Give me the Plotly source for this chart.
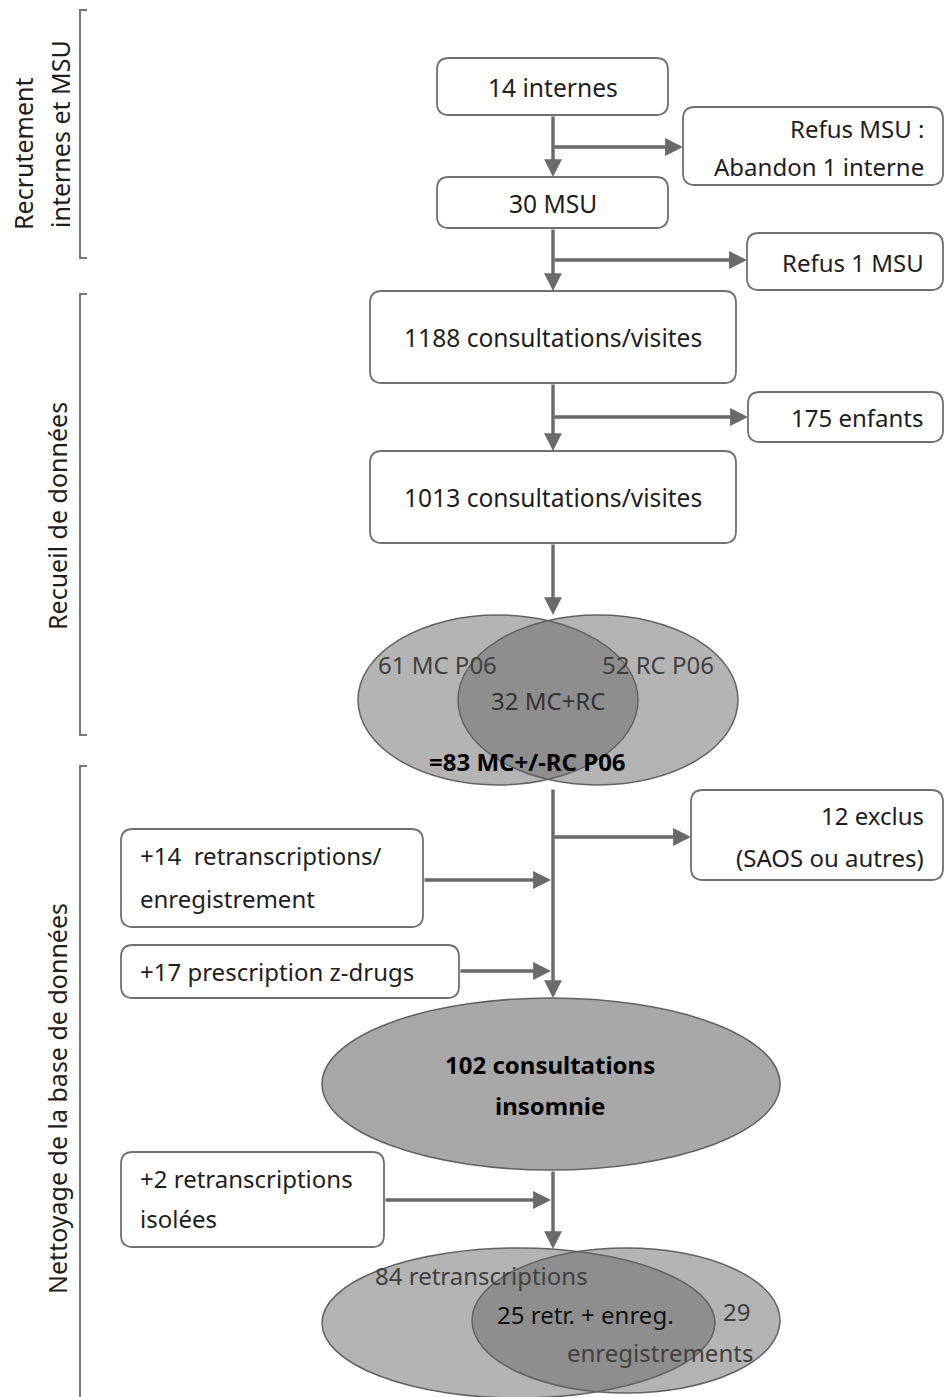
import plotly.graph_objects as go

# ---------------- data (texts / counts of the flow chart) ----------------
section_labels = [["Recrutement", "internes et MSU"], ["Recueil de données"],
                  ["Nettoyage de la base de données"]]
main_steps = ["14 internes", "30 MSU", "1188 consultations/visites", "1013 consultations/visites"]
exclusions = [["Refus MSU :", "Abandon 1 interne"], ["Refus 1 MSU"], ["175 enfants"],
              ["12 exclus", "(SAOS ou autres)"]]
additions = [["+14  retranscriptions/", "enregistrement"], ["+17 prescription z-drugs"],
             ["+2 retranscriptions", "isolées"]]
venn1_labels = ["61 MC P06", "52 RC P06", "32 MC+RC"]
venn1_total = "=83 MC+/-RC P06"
pooled_label = ["102 consultations", "insomnie"]
venn2_labels = ["84 retranscriptions", "25 retr. + enreg.", "29", "enregistrements"]

# ---------------- layout (positions in page pixels) ----------------
W, H = 945, 1397
FONT = "Noto Sans"
FS = 24
TXT = "#1e1e1e"
GREY_TXT = "#404040"
LINE = "#6a6a6a"
BORDER = "#707070"
CX = 553

main_boxes = [(437, 58, 668, 115), (437, 177, 668, 228), (370, 291, 736, 383), (370, 451, 736, 543)]
main_text_y = [87, 203, 337, 497]
excl_boxes = [(683, 107, 943, 185), (747, 233, 943, 290), (748, 392, 943, 442), (691, 790, 943, 880)]
excl_text_y = [[128, 166], [262], [417], [815, 857]]
excl_branch_y = [147, 260, 417, 837]
add_boxes = [(121, 829, 423, 927), (121, 945, 459, 998), (121, 1152, 384, 1247)]
add_text_y = [[855, 898], [971], [1178, 1218]]
add_arrow_y = [880, 971, 1200]

shapes = []
annotations = []


def rrect(x0, y0, x1, y1, r=12):
    p = (f"M {x0+r},{y0} L {x1-r},{y0} Q {x1},{y0} {x1},{y0+r} "
         f"L {x1},{y1-r} Q {x1},{y1} {x1-r},{y1} L {x0+r},{y1} "
         f"Q {x0},{y1} {x0},{y1-r} L {x0},{y0+r} Q {x0},{y0} {x0+r},{y0} Z")
    shapes.append(dict(type="path", path=p, xref="x", yref="y",
                       line=dict(color=BORDER, width=1.8), fillcolor="white", layer="below"))


def text(x, y, s, anchor="center", color=TXT, bold=False, angle=0, size=FS):
    annotations.append(dict(x=x, y=y, xref="x", yref="y", text=f"<b>{s}</b>" if bold else s,
                            showarrow=False, xanchor=anchor, yanchor="middle", textangle=angle,
                            borderpad=0, font=dict(family=FONT, size=size, color=color)))


def arrow(x0, y0, x1, y1):
    annotations.append(dict(x=x1, y=y1, ax=x0, ay=y0, xref="x", yref="y", axref="x", ayref="y",
                            text="", showarrow=True, arrowhead=2, arrowsize=1.05, arrowwidth=3.4,
                            arrowcolor=LINE, standoff=0, startstandoff=0))


# section brackets
brackets = [(10, 258, True), (294, 735, True), (766, 1400, False)]
for y0, y1, closed in brackets:
    p = f"M 87,{y0} L 80,{y0} L 80,{y1}" + (f" L 87,{y1}" if closed else "")
    shapes.append(dict(type="path", path=p, xref="x", yref="y", line=dict(color="#777777", width=2)))
text(23, 154, section_labels[0][0], angle=-90, size=25)
text(60, 134, section_labels[0][1], angle=-90, size=25)
text(57, 516, section_labels[1][0], angle=-90, size=25)
text(57, 1099, section_labels[2][0], angle=-90, size=25)

# main boxes
for (b, ty, s) in zip(main_boxes, main_text_y, main_steps):
    rrect(*b)
    text(CX, ty, s, size=24.6)

# exclusion boxes
for b, tys, lines in zip(excl_boxes, excl_text_y, exclusions):
    rrect(*b)
    for ty, s in zip(tys, lines):
        text(925, ty, s, anchor="right")

# addition boxes
for b, tys, lines in zip(add_boxes, add_text_y, additions):
    rrect(*b)
    for ty, s in zip(tys, lines):
        text(139, ty, s, anchor="left")

# Venn 1
VFILL = "rgba(103,103,103,0.49)"
for x0, x1 in [(358, 638), (458, 738)]:
    shapes.append(dict(type="circle", xref="x", yref="y", x0=x0, x1=x1, y0=615, y1=785,
                       fillcolor=VFILL, line=dict(color="#626262", width=1.5)))
text(437, 664, venn1_labels[0], color=GREY_TXT)
text(658, 664, venn1_labels[1], color=GREY_TXT)
text(548, 700, venn1_labels[2], color="#333333")
text(527, 761, venn1_total, color="black", bold=True)

# pooled ellipse
shapes.append(dict(type="circle", xref="x", yref="y", x0=322, x1=780, y0=998, y1=1170,
                   fillcolor="#a8a8a8", line=dict(color="#626262", width=1.5)))
text(550, 1064, pooled_label[0], color="black", bold=True)
text(550, 1105, pooled_label[1], color="black", bold=True)

# Venn 2
shapes.append(dict(type="circle", xref="x", yref="y", x0=322, x1=715, y0=1248, y1=1398,
                   fillcolor=VFILL, line=dict(color="#626262", width=1.5)))
shapes.append(dict(type="circle", xref="x", yref="y", x0=472, x1=780, y0=1248, y1=1393,
                   fillcolor=VFILL, line=dict(color="#626262", width=1.5)))
text(481, 1275, venn2_labels[0], color=GREY_TXT)
text(585, 1314, venn2_labels[1], color="#111111")
text(736, 1311, venn2_labels[2], color=GREY_TXT)
text(660, 1352, venn2_labels[3], color=GREY_TXT)

# arrows
for y0, y1 in [(115, 177), (228, 291), (383, 451), (543, 615), (788, 998), (1170, 1249)]:
    arrow(CX, y0, CX, y1)
for y, b in zip(excl_branch_y, excl_boxes):
    arrow(CX, y, b[0], y)
for y, b in zip(add_arrow_y, add_boxes):
    arrow(b[2], y, CX - 2, y)

fig = go.Figure()
fig.add_trace(go.Scatter(x=[0, W], y=[0, H], mode="markers",
                         marker=dict(opacity=0), hoverinfo="skip", showlegend=False))
fig.update_layout(width=W, height=H,
                  margin=dict(l=0, r=0, t=0, b=0),
                  paper_bgcolor="white", plot_bgcolor="white",
                  xaxis=dict(range=[0, W], visible=False, fixedrange=True),
                  yaxis=dict(range=[H, 0], visible=False, fixedrange=True),
                  shapes=shapes, annotations=annotations, showlegend=False)
fig.write_html("out.html", config={"displayModeBar": False},
               post_script="document.body.style.margin='0';document.body.style.overflow='hidden';")
